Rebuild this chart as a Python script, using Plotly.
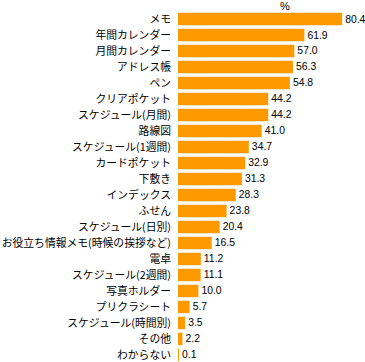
import plotly.graph_objects as go

categories = [
    "メモ", "年間カレンダー", "月間カレンダー", "アドレス帳", "ペン", "クリアポケット",
    "スケジュール(月間)", "路線図", "スケジュール(1週間)", "カードポケット", "下敷き",
    "インデックス", "ふせん", "スケジュール(日別)", "お役立ち情報メモ(時候の挨拶など)",
    "電卓", "スケジュール(2週間)", "写真ホルダー", "プリクラシート",
    "スケジュール(時間別)", "その他", "わからない",
]
values = [80.4, 61.9, 57.0, 56.3, 54.8, 44.2, 44.2, 41.0, 34.7, 32.9, 31.3,
          28.3, 23.8, 20.4, 16.5, 11.2, 11.1, 10.0, 5.7, 3.5, 2.2, 0.1]
unit_label = "%"

fig = go.Figure(go.Bar(
    x=values, y=categories, orientation="h",
    marker=dict(color="#FF9900", line=dict(width=0)),
    width=0.78,
    text=[f"{v:.1f}" for v in values],
    textposition="outside",
    textfont=dict(family="Liberation Sans, Arial, sans-serif", size=10.4, color="black"),
    constraintext="none",
    cliponaxis=False,
))

fig.update_layout(
    width=365, height=362,
    margin=dict(l=178, r=0, t=11, b=0, autoexpand=False),
    paper_bgcolor="white", plot_bgcolor="white",
    showlegend=False,
    xaxis=dict(range=[0, 91.6], visible=False, fixedrange=True, automargin=False),
    yaxis=dict(range=[21.44, -0.5], type="category", showgrid=False, zeroline=False,
               showline=False, ticks="", ticklabelstandoff=6, automargin=False,
               tickfont=dict(family="Noto Sans CJK JP", size=10.8, color="black")),
    annotations=[dict(text=unit_label, x=(285 - 178) / 187, xref="paper",
                      y=1 + (11 - 6) / 351, yref="paper",
                      xanchor="center", yanchor="middle",
                      showarrow=False, font=dict(family="Liberation Sans, Arial, sans-serif", size=11, color="black"))],
)

fig.write_html("out.html", config={"displayModeBar": False},
               post_script="document.body.style.margin='0px';document.body.style.overflow='hidden';")
